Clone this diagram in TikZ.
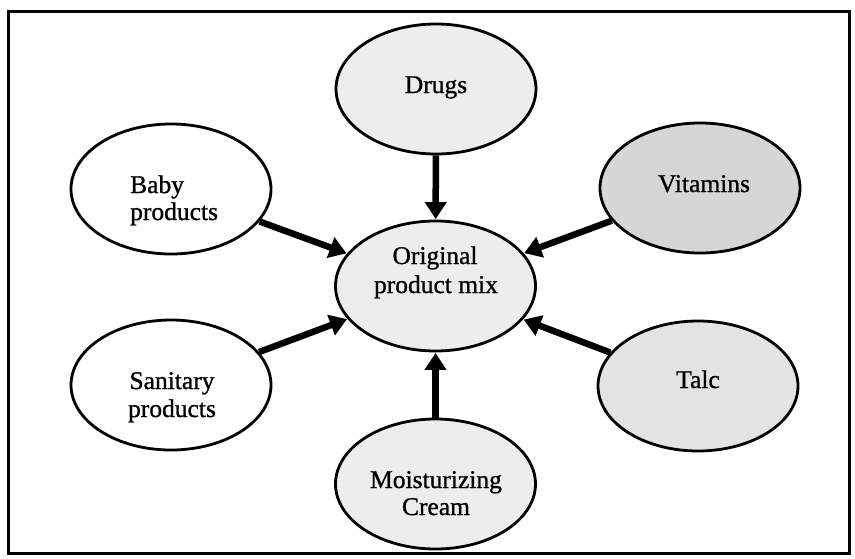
\documentclass[tikz,border=0pt]{standalone}
\usepackage{fontspec}
\setmainfont{Liberation Serif}
\newfontfamily\lblfont{Liberation Serif}[FakeBold=1.0]
\usetikzlibrary{arrows.meta,shapes.geometric}
\begin{document}
\begin{tikzpicture}[x=1pt,y=-1pt,
  blob/.style={draw=black, line width=2.8pt, ellipse, minimum width=200pt, minimum height=130pt, inner sep=0pt},
  lightfill/.style={fill=black!7},
  darkfill/.style={fill=black!16},
  midfill/.style={fill=black!11},
  txt/.style={inner sep=0pt, anchor=base, font=\lblfont\fontsize{25.5}{28}\selectfont},
  txtl/.style={txt, anchor=base west},
  feed/.style={line width=6.5pt, -{Triangle[length=17pt,width=21pt]}, shorten >=0.5pt}
]
\useasboundingbox (0,0) rectangle (855,558);
\node[draw=black, line width=2.8pt, minimum width=841pt, minimum height=542pt, inner sep=0pt, anchor=north west] (frame) at (7,10) {};

\node[blob, lightfill] (orig) at (435.5,286) {};
\node[blob, lightfill] (drugs) at (436,89) {};
\node[blob, lightfill] (cream) at (435.5,484) {};
\node[blob, fill=white] (baby) at (171,189) {};
\node[blob, fill=white] (sanit) at (171,385) {};
\node[blob, darkfill] (vit) at (700,188) {};
\node[blob, midfill] (talc) at (698,386) {};

\node[txt] (t-drugs) at (436,93) {Drugs};
\node[txtl] (t-baby1) at (130,193) {Baby};
\node[txtl] (t-baby2) at (130,220) {products};
\node[txt] (t-vit) at (704,192) {Vitamins};
\node[txt] (t-orig1) at (435,264) {Original};
\node[txt] (t-orig2) at (436,293) {product mix};
\node[txt] (t-san1) at (172,389) {Sanitary};
\node[txt] (t-san2) at (172,417) {products};
\node[txt] (t-talc) at (698,388) {Talc};
\node[txt] (t-cream1) at (436,488) {Moisturizing};
\node[txt] (t-cream2) at (436,515) {Cream};

\draw[feed] (drugs) -- (orig);
\draw[feed] (cream) -- (orig);
\draw[feed] (baby) -- (orig);
\draw[feed] (sanit) -- (orig);
\draw[feed] (vit) -- (orig);
\draw[feed] (talc) -- (orig);
\end{tikzpicture}
\end{document}
